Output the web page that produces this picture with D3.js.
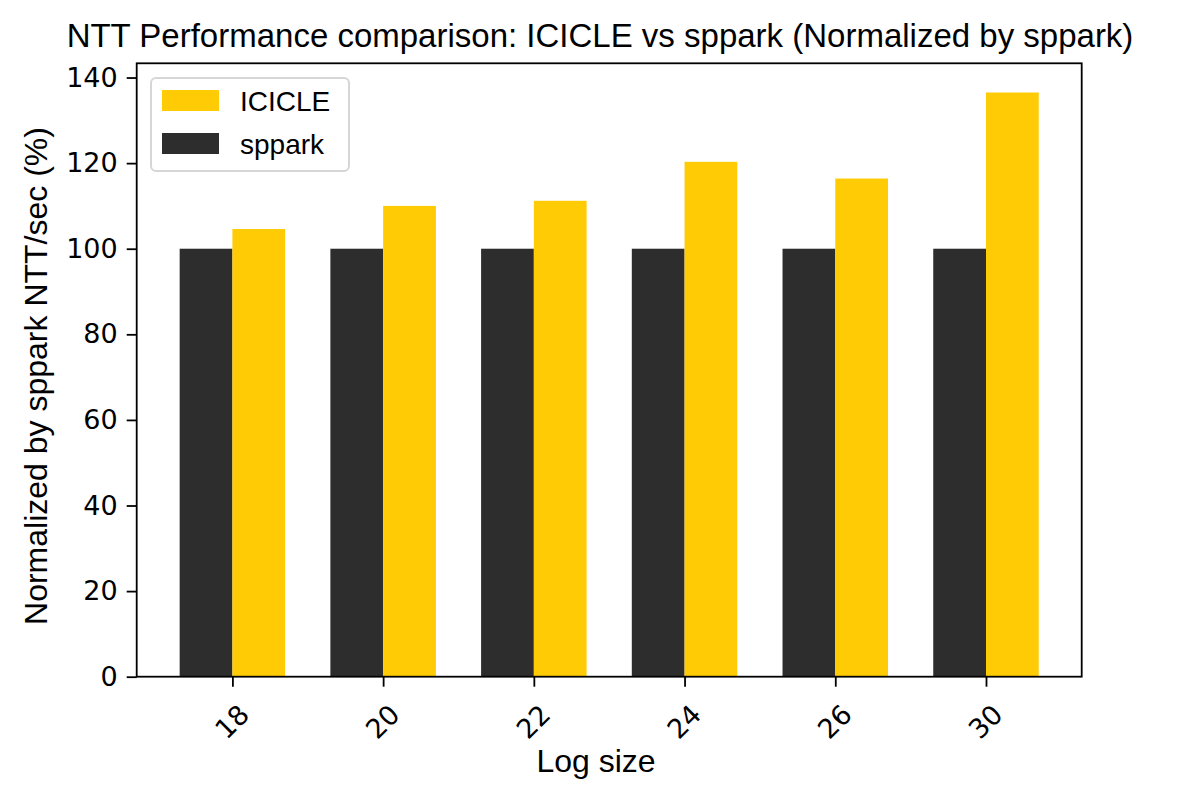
<!DOCTYPE html>
<html>
<head>
<meta charset="utf-8">
<script src="https://cdn.jsdelivr.net/npm/d3@7"></script>
<style>
  body { margin: 0; background: #fff; }
  .vis-bars svg { display: block; }
</style>
</head>
<body>
<div class="vis-bars"></div>
<script>
// data
var logSizes = ["18", "20", "22", "24", "26", "30"];
var icicle = [104.6, 110.0, 111.2, 120.3, 116.4, 136.5];
var sppark = [100, 100, 100, 100, 100, 100];
var yTicks = [0, 20, 40, 60, 80, 100, 120, 140];
var seriesNames = ["ICICLE", "sppark"];
var seriesColors = ["#ffcb05", "#2d2d2d"];

var W = 1200, H = 791;
var margin = {top: 63.3, right: 118.3, bottom: 114.3, left: 136.7},
    width = W - margin.left - margin.right,
    height = H - margin.top - margin.bottom;

var svg = d3.select(".vis-bars")
  .append("svg")
    .attr("width", W)
    .attr("height", H);

var g = svg.append("g")
    .attr("transform", "translate(" + margin.left + "," + margin.top + ")");

// matplotlib style: bars at integer positions, width 0.35, 5% margins
var barW = 0.35;
var xmin = -barW - 0.05 * (logSizes.length - 1 + 2 * barW);
var xmax = logSizes.length - 1 + barW + 0.05 * (logSizes.length - 1 + 2 * barW);
var x = d3.scaleLinear().domain([xmin, xmax]).range([0, width]);
var y = d3.scaleLinear().domain([0, d3.max(icicle) * 1.05]).range([height, 0]);

// sppark bars (left of tick)
g.append("g")
  .selectAll("rect")
  .data(sppark)
  .enter()
  .append("rect")
    .attr("x", function (d, i) { return x(i - barW); })
    .attr("y", function (d) { return y(d); })
    .attr("width", x(barW) - x(0))
    .attr("height", function (d) { return y(0) - y(d); })
    .style("fill", seriesColors[1]);

// ICICLE bars (right of tick)
g.append("g")
  .selectAll("rect")
  .data(icicle)
  .enter()
  .append("rect")
    .attr("x", function (d, i) { return x(i); })
    .attr("y", function (d) { return y(d); })
    .attr("width", x(barW) - x(0))
    .attr("height", function (d) { return y(0) - y(d); })
    .style("fill", seriesColors[0]);

// Y axis
var yAxis = g.append("g")
  .call(d3.axisLeft(y).tickValues(yTicks).tickSize(10).tickPadding(9).tickFormat(d3.format("d")));
yAxis.select(".domain").remove();
yAxis.selectAll("line").attr("stroke", "#000").attr("stroke-width", 1.8);
yAxis.selectAll("text")
  .style("font-family", "DejaVu Sans")
  .style("font-size", "27px")
  .attr("fill", "#000");

// X axis
var xAxis = g.append("g")
  .attr("transform", "translate(0," + height + ")")
  .call(d3.axisBottom(x)
    .tickValues(d3.range(logSizes.length))
    .tickSize(10)
    .tickFormat(function (d) { return logSizes[d]; }));
xAxis.select(".domain").remove();
xAxis.selectAll("line").attr("stroke", "#000").attr("stroke-width", 1.8);
xAxis.selectAll("text")
  .style("font-family", "DejaVu Sans")
  .style("font-size", "27px")
  .attr("fill", "#000")
  .attr("dy", null)
  .attr("y", 0)
  .attr("text-anchor", "middle")
  .attr("dominant-baseline", "central")
  .attr("transform", "translate(-1,45) rotate(-45)");

// frame
g.append("rect")
  .attr("width", width)
  .attr("height", height)
  .attr("fill", "none")
  .attr("stroke", "#000")
  .attr("stroke-width", 1.8);

// title and axis labels
svg.append("text")
  .attr("x", 600)
  .attr("y", 47)
  .attr("text-anchor", "middle")
  .style("font-family", "Liberation Sans")
  .style("font-size", "33px")
  .text("NTT Performance comparison: ICICLE vs sppark (Normalized by sppark)");

svg.append("text")
  .attr("x", 596)
  .attr("y", 772)
  .attr("text-anchor", "middle")
  .style("font-family", "Liberation Sans")
  .style("font-size", "32px")
  .text("Log size");

svg.append("text")
  .attr("transform", "translate(47,376) rotate(-90)")
  .attr("text-anchor", "middle")
  .style("font-family", "Liberation Sans")
  .style("font-size", "32px")
  .text("Normalized by sppark NTT/sec (%)");

// legend
var legend = svg.append("g").attr("transform", "translate(151,78)");
legend.append("rect")
  .attr("width", 198)
  .attr("height", 93)
  .attr("rx", 5)
  .attr("fill", "#fff")
  .attr("stroke", "#d6d6d6")
  .attr("stroke-width", 2);
legend.selectAll(".item")
  .data(seriesNames)
  .enter()
  .append("g")
    .attr("transform", function (d, i) { return "translate(11," + (12 + i * 43) + ")"; })
    .each(function (d, i) {
      var it = d3.select(this);
      it.append("rect")
        .attr("width", 57)
        .attr("height", 21)
        .style("fill", seriesColors[i]);
      it.append("text")
        .attr("x", 78)
        .attr("y", 11)
        .attr("dominant-baseline", "central")
        .style("font-family", "Liberation Sans")
        .style("font-size", "28px")
        .text(d);
    });
</script>
</body>
</html>
